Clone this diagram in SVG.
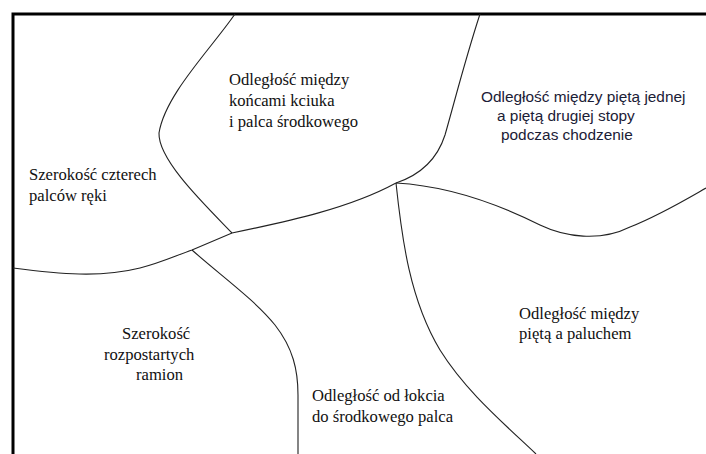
<svg xmlns="http://www.w3.org/2000/svg" width="706" height="454" viewBox="0 0 706 454">
<style>
.frame{fill:none;stroke:#000;stroke-width:3}
.ln{fill:none;stroke:#222;stroke-width:1.1}
.sf{font-size:16.6px;fill:#111}
.ss{font-family:'Liberation Sans',Arial,sans-serif;font-size:15.4px;fill:#1b2036}
</style>
<rect width="706" height="454" fill="#fff"/>
<g id="frame">
<path class="frame" d="M13,456 L13,14 L708,14"/>
</g>
<g id="connectors">
<path class="ln" d="M235,14 C210,50 165,95 159,133 C158,160 205,205 232,233"/>
<path class="ln" d="M480,14 C465,60 455,100 445,135 C437,160 420,175 396,183"/>
<path class="ln" d="M13,268 C60,274 100,278 140,268 C160,263 175,256 192,250 L232,233 C290,221 350,208 396,183"/>
<path class="ln" d="M396,183 C450,186 500,205 540,225 C565,237 600,242 630,227 C660,215 685,200 706,188"/>
<path class="ln" d="M396,183 C402,240 410,300 440,350 C465,390 500,420 536,454"/>
<path class="ln" d="M192,250 C220,275 255,300 275,325 C293,348 298,370 298,395 L298,454"/>
</g>
<g id="node-kciuk" class="sf" font-family="Tinos, 'Liberation Serif', 'Times New Roman', Times, 'Nimbus Roman', FreeSerif, 'DejaVu Serif', serif">
<text x="229" y="85">Odległość między</text>
<text x="229" y="106">końcami kciuka</text>
<text x="229" y="127">i palca środkowego</text>
</g>
<g id="node-stopy" class="ss">
<text x="481" y="102">Odległość między piętą jednej</text>
<text x="497" y="121">a piętą drugiej stopy</text>
<text x="501" y="140">podczas chodzenie</text>
</g>
<g id="node-palce" class="sf" font-family="Tinos, 'Liberation Serif', 'Times New Roman', Times, 'Nimbus Roman', FreeSerif, 'DejaVu Serif', serif">
<text x="29" y="180">Szerokość czterech</text>
<text x="29" y="201">palców ręki</text>
</g>
<g id="node-ramiona" class="sf" font-family="Tinos, 'Liberation Serif', 'Times New Roman', Times, 'Nimbus Roman', FreeSerif, 'DejaVu Serif', serif">
<text x="122" y="339">Szerokość</text>
<text x="104" y="360">rozpostartych</text>
<text x="136" y="380">ramion</text>
</g>
<g id="node-lokiec" class="sf" font-family="Tinos, 'Liberation Serif', 'Times New Roman', Times, 'Nimbus Roman', FreeSerif, 'DejaVu Serif', serif">
<text x="312" y="401">Odległość od łokcia</text>
<text x="312" y="422">do środkowego palca</text>
</g>
<g id="node-paluch" class="sf" font-family="Tinos, 'Liberation Serif', 'Times New Roman', Times, 'Nimbus Roman', FreeSerif, 'DejaVu Serif', serif">
<text x="519" y="319">Odległość między</text>
<text x="519" y="339">piętą a paluchem</text>
</g>
</svg>
